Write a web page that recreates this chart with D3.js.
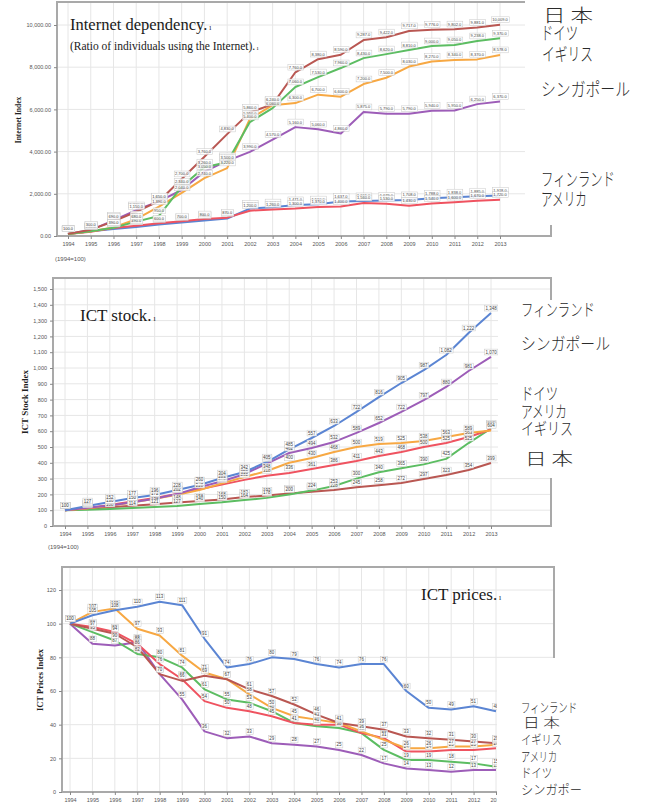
<!DOCTYPE html>
<html>
<head>
<meta charset="utf-8">
<script src="https://cdn.jsdelivr.net/npm/d3@7"></script>
<style>
  body { margin: 0; background: #fff; }
  svg { display: block; }
</style>
</head>
<body>
<div id="chart"></div>
<script>
// years on the x axis (1994 = 100)
const years = [1994, 1995, 1996, 1997, 1998, 1999, 2000, 2001, 2002, 2003,
  2004, 2005, 2006, 2007, 2008, 2009, 2010, 2011, 2012, 2013];

// Internet dependency
const netJapan = [100, 300, 690, 1150, 1650, 2700, 3760, 4830, 5860, 6240, 7760, 8380, 8590, 9287, 9422, 9717, 9776, 9802, 9881, 10009];
const netGermany = [100, 230, 390, 680, 950, 2340, 3260, 3500, 5400, 6060, 7060, 7530, 7960, 8430, 8620, 8810, 9000, 9050, 9238, 9370];
const netUK = [100, 220, 400, 800, 1390, 2040, 2740, 3220, 5550, 6200, 6300, 6700, 6600, 7200, 7500, 8030, 8270, 8340, 8370, 8578];
const netSingapore = [100, 280, 740, 1230, 1640, 2180, 3050, 3560, 3990, 4570, 5160, 5060, 4860, 5875, 5790, 5790, 5940, 5950, 6250, 6370];
const netFinland = [100, 220, 330, 430, 540, 640, 730, 830, 1300, 1367, 1471, 1510, 1637, 1661, 1679, 1708, 1788, 1838, 1885, 1918];
const netUSA = [100, 200, 380, 490, 600, 700, 800, 870, 1200, 1260, 1300, 1370, 1400, 1560, 1530, 1430, 1540, 1600, 1670, 1720];
const netTicks = [0, 2000, 4000, 6000, 8000, 10000];

// ICT stock
const stockFinland = [100, 127, 152, 177, 196, 228, 260, 304, 342, 405, 485, 557, 633, 722, 816, 905, 987, 1082, 1222, 1348];
const stockSingapore = [100, 115, 130, 150, 172, 202, 245, 283, 328, 395, 462, 494, 532, 589, 652, 722, 797, 880, 981, 1070];
const stockUK = [100, 112, 128, 148, 172, 198, 228, 270, 310, 348, 400, 430, 468, 500, 519, 525, 538, 563, 589, 604];
const stockUSA = [100, 113, 133, 155, 178, 203, 232, 262, 292, 318, 336, 361, 386, 411, 443, 468, 500, 525, 563, 611];
const stockGermany = [100, 103, 108, 114, 121, 127, 140, 150, 164, 178, 200, 224, 253, 300, 340, 365, 390, 425, 525, 617];
const stockJapan = [100, 109, 118, 128, 138, 148, 158, 168, 183, 193, 206, 217, 228, 245, 258, 272, 297, 323, 354, 399];
const stockTicks = [0, 100, 200, 300, 400, 500, 600, 700, 800, 900, 1000, 1100, 1200, 1300, 1400, 1500];

// ICT prices
const priceFinland = [100, 105, 108, 110, 113, 111, 91, 74, 76, 80, 79, 76, 74, 76, 76, 60, 50, 49, 51, 48];
const priceJapan = [100, 97, 94, 86, 70, 66, 69, 67, 61, 57, 52, 46, 41, 39, 37, 33, 32, 31, 30, 29];
const priceUK = [100, 107, 109, 97, 93, 81, 71, 67, 58, 50, 45, 43, 41, 36, 31, 26, 26, 27, 27, 28];
const priceUSA = [100, 98, 95, 88, 76, 67, 54, 50, 48, 45, 41, 40, 40, 35, 32, 24, 24, 25, 25, 26];
const priceGermany = [100, 95, 90, 82, 80, 74, 61, 55, 53, 48, 41, 39, 38, 35, 25, 19, 19, 18, 17, 15];
const priceSingapore = [100, 88, 87, 89, 70, 55, 36, 32, 33, 29, 28, 27, 25, 22, 17, 14, 13, 12, 13, 13];
const priceTicks = [0, 20, 40, 60, 80, 100, 120];

const colors = {
  japan: "#b95752", germany: "#5cbd62", uk: "#f7a843",
  singapore: "#9d5db8", finland: "#5b85d3", usa: "#ef5360"
};

const svg = d3.select("#chart").append("svg")
  .attr("width", 645)
  .attr("height", 803);

function drawPanel(cfg) {
  const g = svg.append("g");
  const [bx0, by0, bx1, by1] = cfg.box;

  const x = d3.scaleLinear().domain([1994, 2013]).range(cfg.xRange);
  const y = d3.scaleLinear().domain(cfg.yDomain).range(cfg.yRange);

  // grid
  g.append("g").selectAll("line").data(years).join("line")
    .attr("x1", d => x(d)).attr("x2", d => x(d))
    .attr("y1", by0).attr("y2", by1)
    .attr("stroke", "#e6e6e6").attr("stroke-width", 1);
  g.append("g").selectAll("line").data(cfg.ticks).join("line")
    .attr("x1", bx0).attr("x2", bx1)
    .attr("y1", d => y(d)).attr("y2", d => y(d))
    .attr("stroke", "#e6e6e6").attr("stroke-width", 1);

  // frame
  g.append("rect")
    .attr("x", bx0).attr("y", by0)
    .attr("width", bx1 - bx0).attr("height", by1 - by0)
    .attr("fill", "none").attr("stroke", "#a9a9a9").attr("stroke-width", 2);

  // axes
  const yAxis = g.append("g")
    .attr("transform", `translate(${bx0},0)`)
    .call(d3.axisLeft(y).tickValues(cfg.ticks).tickSize(3).tickFormat(cfg.tickFmt));
  const xAxis = g.append("g")
    .attr("transform", `translate(0,${by1})`)
    .call(d3.axisBottom(x).tickValues(years).tickSize(3).tickFormat(d3.format("d")));
  [yAxis, xAxis].forEach(a => {
    a.select(".domain").remove();
    a.selectAll("line").attr("stroke", "#888");
    a.selectAll("text")
      .attr("fill", "#555")
      .style("font-family", "Liberation Sans, Arial, sans-serif")
      .style("font-size", "5.5px");
  });

  // lines
  const line = d3.line()
    .x((d, i) => x(years[i]))
    .y(d => y(d));

  cfg.series.forEach(s => {
    g.append("path")
      .datum(s.values)
      .attr("fill", "none")
      .attr("stroke", s.color)
      .attr("stroke-width", 2)
      .attr("stroke-linejoin", "round")
      .attr("d", line);
  });

  // value labels
  const lab = g.append("g");
  cfg.series.forEach(s => {
    s.values.forEach((v, i) => {
      const lg = lab.append("g")
        .attr("transform", `translate(${x(years[i])},${y(v) - 5})`);
      const t = lg.append("text")
        .attr("text-anchor", "middle")
        .attr("dy", "0.35em")
        .attr("fill", "#444")
        .style("font-family", "Liberation Sans, Arial, sans-serif")
        .style("font-size", cfg.labelSize + "px")
        .text(cfg.labelFmt(v));
      const bb = t.node().getBBox();
      lg.insert("rect", "text")
        .attr("x", bb.x - 0.8).attr("y", bb.y - 0.4)
        .attr("width", bb.width + 1.6).attr("height", bb.height + 0.8)
        .attr("fill", "#fff").attr("fill-opacity", 0.85)
        .attr("stroke", "#c8c8c8").attr("stroke-width", 0.5);
    });
  });

  // white area that holds the country names
  g.append("rect")
    .attr("x", cfg.legendBox[0]).attr("y", cfg.legendBox[1])
    .attr("width", cfg.legendBox[2]).attr("height", cfg.legendBox[3])
    .attr("fill", "#fff");

  cfg.legend.forEach(l => {
    g.append("text")
      .attr("x", l.x).attr("y", l.y)
      .attr("textLength", l.w)
      .attr("lengthAdjust", "spacingAndGlyphs")
      .attr("fill", "#2a2a2a")
      .style("font-family", "Noto Sans CJK JP, sans-serif")
      .style("font-weight", 300)
      .style("font-size", cfg.legendSize + "px")
      .text(l.text);
  });

  // y axis title
  g.append("text")
    .attr("transform", `translate(${cfg.yTitle.x},${cfg.yTitle.y}) rotate(-90)`)
    .attr("text-anchor", "middle")
    .attr("fill", "#222")
    .style("font-family", "Liberation Serif, Times New Roman, serif")
    .style("font-weight", "bold")
    .style("font-size", cfg.yTitle.size + "px")
    .text(cfg.yTitle.text);

  return g;
}

function title(x, y, size, text) {
  const t = svg.append("text")
    .attr("x", x).attr("y", y)
    .attr("fill", "#1a1a1a")
    .style("font-family", "Liberation Serif, Times New Roman, serif")
    .style("font-size", size + "px")
    .text(text);
  t.append("tspan").style("font-size", (size * 0.45) + "px").text(" ı");
}

function note(x, y) {
  svg.append("text")
    .attr("x", x).attr("y", y)
    .attr("fill", "#555")
    .style("font-family", "Liberation Sans, Arial, sans-serif")
    .style("font-size", "6px")
    .text("(1994=100)");
}

// --- Panel 1: Internet dependency
drawPanel({
  box: [57, 2, 551, 236],
  xRange: [68, 500],
  yDomain: [0, 10000],
  yRange: [236, 25],
  ticks: netTicks,
  tickFmt: d3.format(",.2f"),
  labelFmt: d3.format(",.1f"),
  labelSize: 4,
  series: [
    { values: netFinland, color: colors.finland },
    { values: netUSA, color: colors.usa },
    { values: netSingapore, color: colors.singapore },
    { values: netUK, color: colors.uk },
    { values: netGermany, color: colors.germany },
    { values: netJapan, color: colors.japan }
  ],
  legendBox: [525, 0, 120, 225],
  legendSize: 18,
  legend: [
    { text: "日 本", x: 543, y: 22, w: 50 },
    { text: "ドイツ", x: 541, y: 40, w: 37 },
    { text: "イギリス", x: 542, y: 61, w: 51 },
    { text: "シンガポール", x: 541, y: 96, w: 89 },
    { text: "フィンランド", x: 541, y: 186, w: 74 },
    { text: "アメリカ", x: 541, y: 206, w: 46 }
  ],
  yTitle: { x: 21, y: 120, size: 7.5, text: "Internet Index" }
});
title(70, 30, 16.5, "Internet dependency.");
svg.append("text")
  .attr("x", 70).attr("y", 50)
  .attr("fill", "#1a1a1a")
  .style("font-family", "Liberation Serif, Times New Roman, serif")
  .style("font-size", "11.5px")
  .text("(Ratio of individuals using the Internet).")
  .append("tspan").style("font-size", "6px").text(" ı");
note(55, 261);

// --- Panel 2: ICT stock
drawPanel({
  box: [53, 278, 551, 526],
  xRange: [65, 491],
  yDomain: [0, 1500],
  yRange: [526, 289],
  ticks: stockTicks,
  tickFmt: d3.format(","),
  labelFmt: d3.format(","),
  labelSize: 4.5,
  series: [
    { values: stockJapan, color: colors.japan },
    { values: stockGermany, color: colors.germany },
    { values: stockUSA, color: colors.usa },
    { values: stockUK, color: colors.uk },
    { values: stockSingapore, color: colors.singapore },
    { values: stockFinland, color: colors.finland }
  ],
  legendBox: [498, 300, 147, 178],
  legendSize: 17,
  legend: [
    { text: "フィンランド", x: 521, y: 316, w: 74 },
    { text: "シンガポール", x: 521, y: 350, w: 89 },
    { text: "ドイツ", x: 521, y: 400, w: 37 },
    { text: "アメリカ", x: 521, y: 418, w: 46 },
    { text: "イギリス", x: 521, y: 435, w: 52 },
    { text: "日 本", x: 525, y: 465, w: 48 }
  ],
  yTitle: { x: 28, y: 402, size: 9, text: "ICT Stock Index" }
});
title(80, 321, 17, "ICT stock.");
note(48, 549);

// --- Panel 3: ICT prices
drawPanel({
  box: [62, 567, 554, 792],
  xRange: [70, 496],
  yDomain: [0, 120],
  yRange: [792, 590],
  ticks: priceTicks,
  tickFmt: d3.format("d"),
  labelFmt: d3.format("d"),
  labelSize: 4.5,
  series: [
    { values: priceSingapore, color: colors.singapore },
    { values: priceGermany, color: colors.germany },
    { values: priceUSA, color: colors.usa },
    { values: priceUK, color: colors.uk },
    { values: priceJapan, color: colors.japan },
    { values: priceFinland, color: colors.finland }
  ],
  legendBox: [497, 658, 148, 145],
  legendSize: 13,
  legend: [
    { text: "フィンランド", x: 521, y: 712, w: 56 },
    { text: "日 本", x: 523, y: 727, w: 37 },
    { text: "イギリス", x: 521, y: 744, w: 41 },
    { text: "アメリカ", x: 521, y: 761, w: 36 },
    { text: "ドイツ", x: 521, y: 777, w: 31 },
    { text: "シンガポー", x: 521, y: 794, w: 61 }
  ],
  yTitle: { x: 43, y: 680, size: 8.5, text: "ICT Prices Index" }
});
title(421, 600, 17, "ICT prices.");
</script>
</body>
</html>
